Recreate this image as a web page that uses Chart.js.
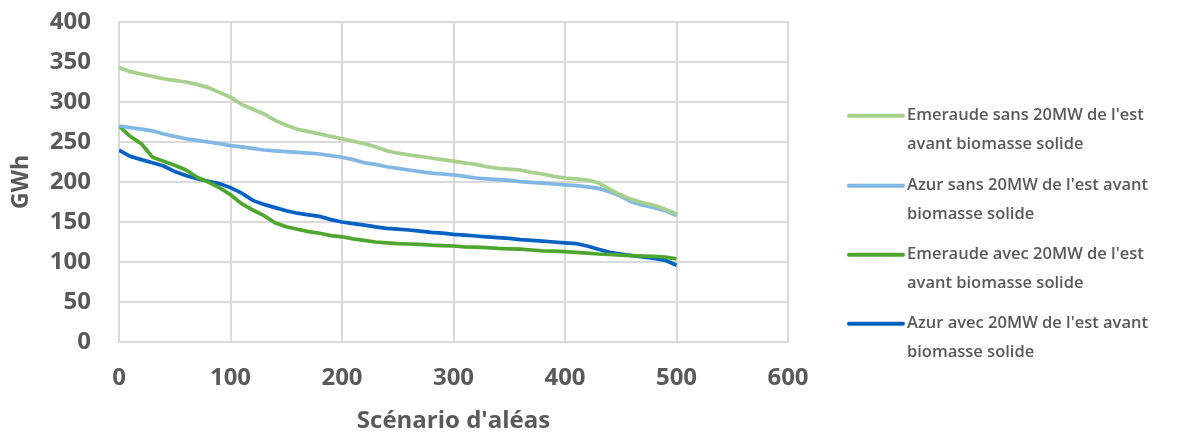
<!DOCTYPE html>
<html>
<head>
<meta charset="utf-8">
<script src="https://cdn.jsdelivr.net/npm/chart.js@4/dist/chart.umd.min.js"></script>
<style>
html,body{margin:0;padding:0;background:#fff;}
#wrap{width:1195px;height:436px;position:relative;}
</style>
</head>
<body>
<div id="wrap"><canvas id="c" width="1195" height="436"></canvas></div>
<script>
const scenarios = [0,10,20,30,40,50,60,70,80,90,100,110,120,130,140,150,160,170,180,190,200,210,220,230,240,250,260,270,280,290,300,310,320,330,340,350,360,370,380,390,400,410,420,430,440,450,460,470,480,490,500];

const emeraudeSans = [343,338,335,332,329,327,325,322,318,312,306,297,291,285,277,271,266,263,260,257,254,251,248,244,239,236,234,232,230,228,226,224,222,219,217,216,215,212,210,207,205,204,202.5,199,191,184,178,174,171,166,160];

const azurSans = [270,268,266,264,260,257,254,252,250,248,245.5,244,242,240,239,238,237,236,235,233,231,228,224,222,219,217,215,213,211,210,209,207,205,204,203,202,200.5,199.5,198.5,197.5,196.5,195.5,194,192,188,182,175,171,168,164,158];

const emeraudeAvec = [270,257,248,231,226,221,215,206,200,193,184,173,165,158,149,144,141,138,136,133,131.5,129,127,125,124,123,122.5,122,121,120.5,120,119,118.5,118,117,116.5,116,115,114,113.5,113,112,111,110,109.5,108.5,108,107.5,107,106,104];

const azurAvec = [240,232,228,224,220,213,208,204,201,198,193,186,177,172,168,164,161,159,157,153,150,148,146,144,142,141,140,138.5,137,136,134.5,133.5,132.5,131.5,130.5,129.5,128,127,126,125,124,123,120,116,112,110,108,106.5,104.5,102,96];

const seriesLabels = [
  ["Emeraude sans 20MW de l'est", "avant biomasse solide"],
  ["Azur sans 20MW de l'est avant", "biomasse solide"],
  ["Emeraude avec 20MW de l'est", "avant biomasse solide"],
  ["Azur avec 20MW de l'est avant", "biomasse solide"]
];
const seriesColors = ['#a6d08c','#80b7e4','#4fa62f','#0561c2'];
const xTicks = [0,100,200,300,400,500,600];
const yTicks = [0,50,100,150,200,250,300,350,400];
const xTitle = "Scénario d'aléas";
const yTitle = "GWh";

function pts(vals){ return scenarios.map((s,i)=>({x:s,y:vals[i]})); }
const allSeries = [emeraudeSans, azurSans, emeraudeAvec, azurAvec];

const legendPlugin = {
  id:'customLegend',
  afterDraw(chart){
    const ctx = chart.ctx;
    ctx.save();
    const ys = [115.7,185.7,254.7,323.7];
    chart.data.datasets.forEach((ds,i)=>{
      const y = ys[i];
      ctx.strokeStyle = ds.borderColor;
      ctx.lineWidth = 4;
      ctx.lineCap = 'round';
      ctx.beginPath();
      ctx.moveTo(849,y); ctx.lineTo(903,y); ctx.stroke();
      ctx.fillStyle = '#595959';
      ctx.font = '600 16.5px "Open Sans"';
      ctx.textBaseline = 'middle';
      ctx.textAlign = 'left';
      ds.legendLines.forEach((t,j)=>{
        ctx.fillText(t, 907, y + j*29);
      });
    });
    ctx.restore();
  }
};

new Chart(document.getElementById('c'), {
  type:'scatter',
  data:{
    datasets: allSeries.map((vals,i)=>({
      label: seriesLabels[i].join(' '),
      legendLines: seriesLabels[i],
      data: pts(vals),
      showLine:true,
      borderColor: seriesColors[i],
      backgroundColor: seriesColors[i],
      borderWidth: 3.7,
      pointRadius:0,
      tension:0
    }))
  },
  options:{
    responsive:false,
    animation:false,
    layout:{padding:{top:22,right:407,left:0,bottom:0}},
    plugins:{legend:{display:false},tooltip:{enabled:false}},
    scales:{
      x:{
        type:'linear', min:0, max:600,
        afterBuildTicks(s){ s.ticks = xTicks.map(v=>({value:v})); },
        afterFit(s){ s.height = 94; },
        grid:{color:'#d9d9d9', lineWidth:2, drawTicks:false},
        border:{color:'#d9d9d9', width:2},
        ticks:{color:'#595959', font:{family:'"Open Sans"', size:24, weight:'bold'}, padding:22, maxRotation:0},
        title:{display:true, text:xTitle, color:'#595959', font:{family:'"Open Sans"', size:24, weight:'bold'}, padding:{top:4,bottom:0}}
      },
      y:{
        type:'linear', min:0, max:400,
        afterBuildTicks(s){ s.ticks = yTicks.map(v=>({value:v})); },
        afterFit(s){ s.width = 119; s.paddingTop = 0; s.paddingBottom = 0; },
        grid:{color:'#d9d9d9', lineWidth:2, drawTicks:false},
        border:{color:'#d9d9d9', width:2},
        ticks:{color:'#595959', font:{family:'"Open Sans"', size:24, weight:'bold'}, padding:28},
        title:{display:true, text:yTitle, color:'#595959', font:{family:'"Open Sans"', size:23, weight:'bold'}, padding:{top:8,bottom:0}}
      }
    }
  },
  plugins:[legendPlugin]
});
</script>
</body>
</html>
